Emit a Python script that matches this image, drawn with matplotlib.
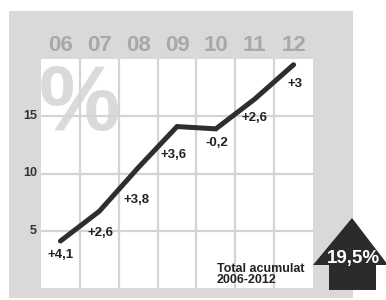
import numpy as np
import matplotlib
matplotlib.use("Agg")
import matplotlib.pyplot as plt
from matplotlib.patches import Rectangle, Polygon

# data
years = ["06", "07", "08", "09", "10", "11", "12"]
increments = [4.1, 2.6, 3.8, 3.6, -0.2, 2.6, 3.0]
inc_labels = ["+4,1", "+2,6", "+3,8", "+3,6", "-0,2", "+2,6", "+3"]
y_ticks = [5, 10, 15]
total_label = "19,5%"
total_caption = "Total acumulat\n2006-2012"

# label offsets (pixels, from each point)
label_offsets = [(0, -14), (1, -22), (-2, -32), (-3, -28), (1, -14), (0, -19), (1, -19)]

W, H = 386, 300
plt.rcParams["font.family"] = ["Liberation Sans", "DejaVu Sans"]
fig = plt.figure(figsize=(W / 100, H / 100), dpi=100)
fig.patch.set_facecolor("white")

def fx(px):
    return px / W

def fy(py):
    return 1 - py / H

# gray panel
fig.patches.append(Rectangle((fx(9), fy(298)), fx(344), 287 / H,
                             transform=fig.transFigure, facecolor="#d9d9d9",
                             edgecolor="none", zorder=-1))

ax = fig.add_axes([fx(41), fy(288), fx(272), 229 / H])
ax.set_zorder(1)
ax.set_facecolor("white")
ax.set_xlim(0, 7)
ax.set_ylim(0, 20)
for s in ax.spines.values():
    s.set_visible(False)
ax.set_xticks([])
ax.set_yticks([])

grid_c = "#d4d4d4"
for i in range(1, 7):
    ax.axvline(i, color=grid_c, lw=1.6, zorder=1)
for v in y_ticks:
    ax.axhline(v, color=grid_c, lw=1.6, zorder=1)
    ax.text(-0.1, v, str(v), ha="right", va="center", fontsize=9,
            fontweight="bold", color="#333333", clip_on=False)

ax.text(0.98, 13.8, "%", ha="center", va="baseline", fontsize=66,
        fontweight="bold", color="#dadada", zorder=0.5)

for i, yr in enumerate(years):
    ax.text(i + 0.5, 21.15, yr, ha="center", va="center", fontsize=16,
            fontweight="bold", color="#a8a8a8", clip_on=False)

xs = np.arange(len(years)) + 0.5
levels = np.cumsum(increments)
ax.plot(xs, levels, color="#2e2e2e", lw=3.6, solid_capstyle="round",
        solid_joinstyle="miter", zorder=3)

for x, v, lab, (dx, dy) in zip(xs, levels, inc_labels, label_offsets):
    ax.annotate(lab, (x, v), xytext=(dx * 0.72, dy * 0.72),
                textcoords="offset points", ha="center", va="center",
                fontsize=9.5, fontweight="bold", color="#222222", zorder=4)

ax.text(4.53, 0.15, total_caption, ha="left", va="bottom", fontsize=9,
        fontweight="bold", color="#222222", linespacing=0.95)

# arrow with the total
arrow_px = [(352, 218), (388, 265), (376, 265), (376, 290),
            (329, 290), (329, 265), (313, 265)]
fig.patches.append(Polygon([(fx(x), fy(y)) for x, y in arrow_px], closed=True,
                           transform=fig.transFigure, facecolor="#2b2b2b",
                           edgecolor="none", zorder=5))
fig.text(fx(353), fy(258), total_label, ha="center", va="center", fontsize=13.5,
         fontweight="bold", color="white", zorder=6)

fig.savefig("out.png", dpi=100)
